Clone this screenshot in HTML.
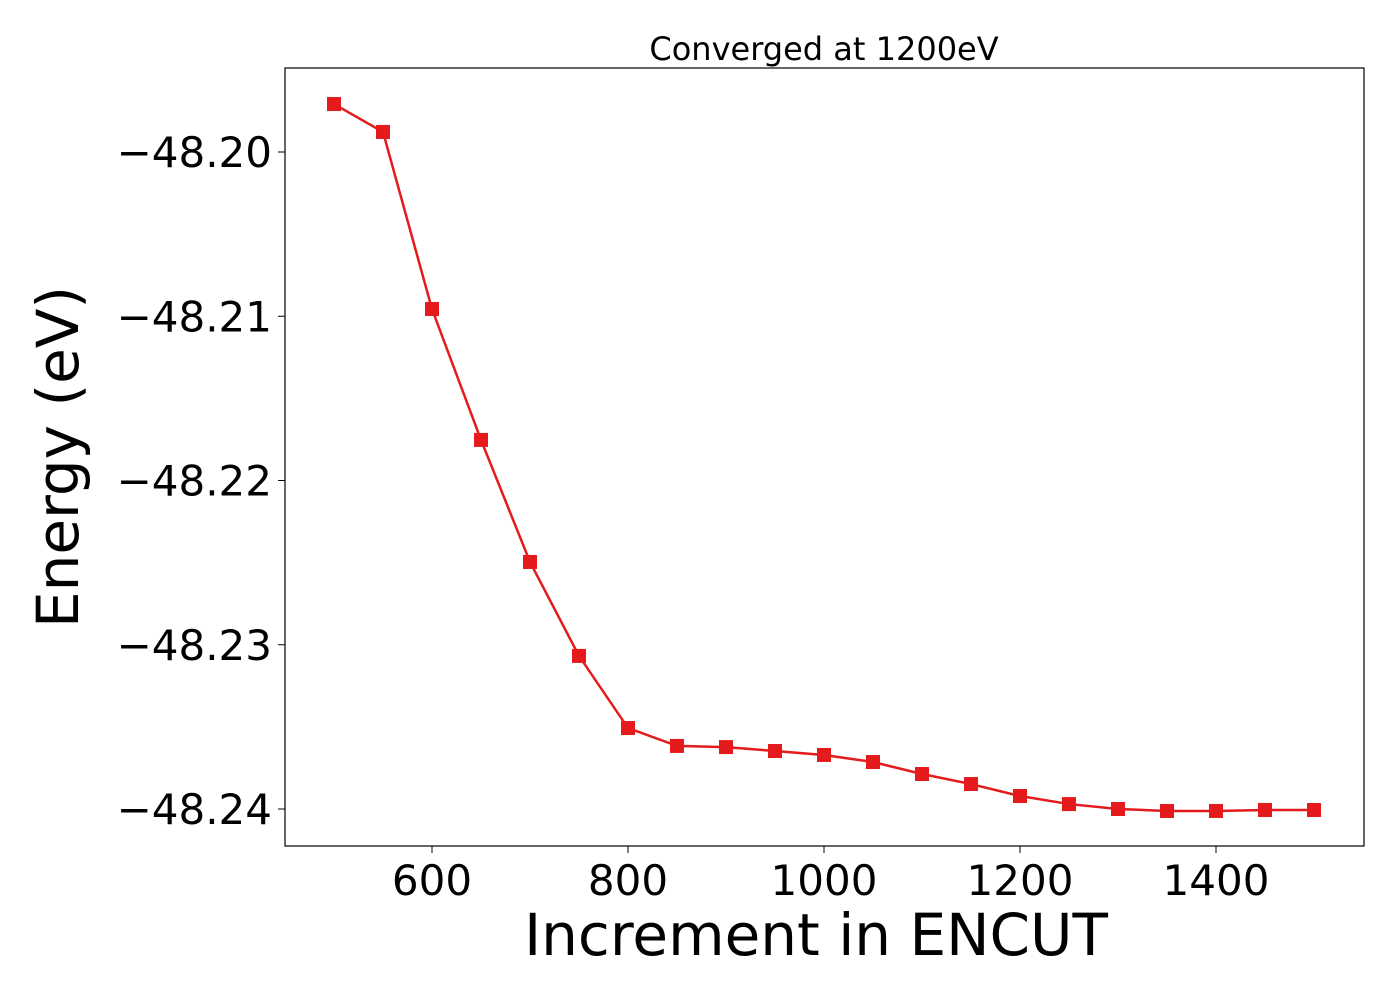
<!DOCTYPE html>
<html><head><meta charset="utf-8"><style>
body{margin:0;background:#fff;}
svg{display:block;font-family:"DejaVu Sans","Liberation Sans",sans-serif;}
</style></head><body>
<svg id="chart" width="1400" height="1000">
<text x="824" y="60" font-size="32" text-anchor="middle" fill="#000">Converged at 1200eV</text>
<rect x="285" y="68" width="1079" height="778" fill="none" stroke="#000" stroke-width="1.2"/>
<g id="xticks"></g>
<g id="yticks"></g>
<text x="816" y="955" font-size="58" text-anchor="middle">Increment in ENCUT</text>
<text transform="translate(78,457) rotate(-90)" font-size="58" text-anchor="middle">Energy (eV)</text>
<g id="series"></g>
</svg>
<script>
const encut = [500,550,600,650,700,750,800,850,900,950,1000,1050,1100,1150,1200,1250,1300,1350,1400,1450,1500];
const energy = [-48.19708,-48.19878,-48.20956,-48.21753,-48.22496,-48.23068,-48.23507,-48.23616,-48.23623,-48.23647,-48.23671,-48.23714,-48.23787,-48.23848,-48.23921,-48.23970,-48.24000,-48.24012,-48.24012,-48.24006,-48.24006];
const xTickValues = [600,800,1000,1200,1400];
const yTickValues = [-48.20,-48.21,-48.22,-48.23,-48.24];
const yTickLabels = ["\u221248.20","\u221248.21","\u221248.22","\u221248.23","\u221248.24"];
const NS="http://www.w3.org/2000/svg";
function xs(v){return 432+(v-600)*0.98;}
function ys(v){return 152+(-48.20-v)*16425;}
const xg=document.getElementById('xticks'), yg=document.getElementById('yticks'), sg=document.getElementById('series');
xTickValues.forEach(v=>{
  const l=document.createElementNS(NS,'line');
  l.setAttribute('x1',xs(v));l.setAttribute('x2',xs(v));l.setAttribute('y1',846);l.setAttribute('y2',853);l.setAttribute('stroke','#000');
  
  
  xg.appendChild(l);
  const t=document.createElementNS(NS,'text');
  t.setAttribute('x',xs(v));t.setAttribute('y',895);t.setAttribute('font-size','42');t.setAttribute('text-anchor','middle');
  t.textContent=v;
  
  
  xg.appendChild(t);
});
yTickValues.forEach((v,i)=>{
  const l=document.createElementNS(NS,'line');
  l.setAttribute('x1',278);l.setAttribute('x2',285);l.setAttribute('y1',ys(v));l.setAttribute('y2',ys(v));l.setAttribute('stroke','#000');
  
  
  yg.appendChild(l);
  const t=document.createElementNS(NS,'text');
  t.setAttribute('x',272);t.setAttribute('y',ys(v)+15);t.setAttribute('font-size','42');t.setAttribute('text-anchor','end');
  t.textContent=yTickLabels[i];
  
  
  yg.appendChild(t);
});
const p=document.createElementNS(NS,'polyline');
p.setAttribute('points',encut.map((x,i)=>xs(x)+','+ys(energy[i])).join(' '));
p.setAttribute('fill','none');p.setAttribute('stroke','#e41a1c');p.setAttribute('stroke-width','2.5');


sg.appendChild(p);
encut.forEach((x,i)=>{
  const r=document.createElementNS(NS,'rect');
  r.setAttribute('x',xs(x)-7);r.setAttribute('y',ys(energy[i])-7);r.setAttribute('width',14);r.setAttribute('height',14);r.setAttribute('fill','#e41a1c');
  
  
  sg.appendChild(r);
});
</script>
</body></html>
